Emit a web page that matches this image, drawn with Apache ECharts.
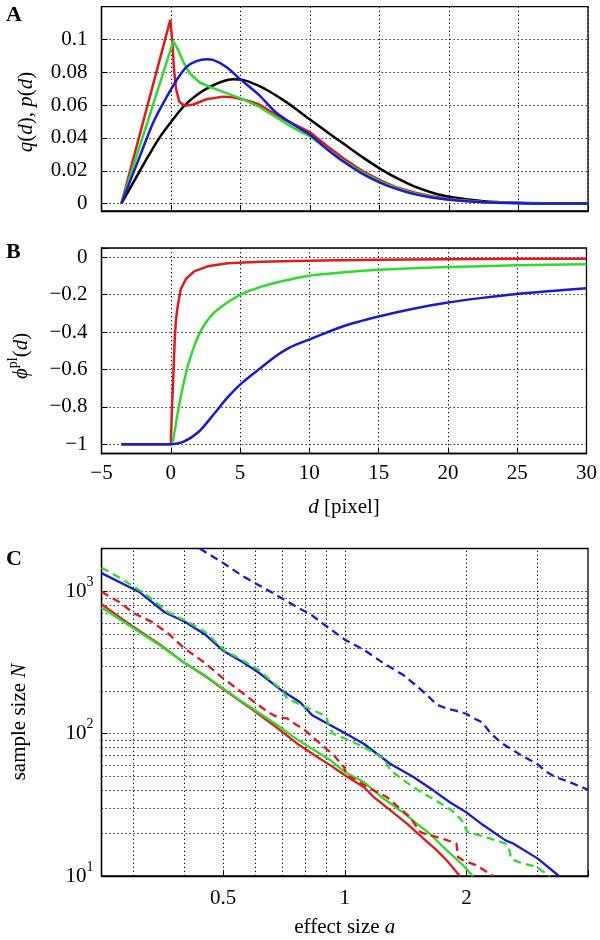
<!DOCTYPE html>
<html>
<head>
<meta charset="utf-8">
<script src="https://cdn.jsdelivr.net/npm/echarts@6/dist/echarts.min.js"></script>
<style>
html, body { margin: 0; padding: 0; background: #fff; }
#chart { width: 600px; height: 940px; }
</style>
</head>
<body>
<div id="chart"></div>
<script>
// panel A: q(d), p(d)
var aBlackX = [-3.57, -2.69, -1.74, -0.79, 0, 0.88, 1.83, 2.79, 3.74, 4.45, 5.17, 6.36, 7.0, 8.0, 8.94, 10, 11.25, 12.5, 13.75, 15, 16.25, 17.5, 18.75, 20, 22.5, 25, 27.5, 30];
var aBlackY = [0, 0.0132, 0.0274, 0.0407, 0.0498, 0.059, 0.066, 0.0711, 0.0746, 0.0758, 0.0754, 0.0716, 0.0688, 0.0635, 0.058, 0.0512, 0.0435, 0.036, 0.0285, 0.0215, 0.0155, 0.0105, 0.0068, 0.0042, 0.0015, 0.0005, 0.0001, 0];
var aRedX = [-3.57, -0.05, 0.12, 0.21, 0.36, 0.6, 1.0, 1.6, 2.55, 3.74, 4.45, 5.4, 6.36, 7.0, 8.0, 8.94, 10, 11.25, 12.5, 13.75, 15, 16.25, 17.5, 18.75, 20, 22.5, 25, 27.5, 30];
var aRedY = [0, 0.112, 0.0965, 0.0823, 0.0701, 0.062, 0.0596, 0.0604, 0.0636, 0.0652, 0.0648, 0.063, 0.0604, 0.057, 0.052, 0.048, 0.0435, 0.035, 0.027, 0.02, 0.0145, 0.0098, 0.0068, 0.0045, 0.0028, 0.001, 0.0003, 0.0001, 0];
var aGreenX = [-3.57, 0.17, 0.52, 0.88, 1.36, 2.07, 2.79, 3.74, 4.93, 6.36, 7.5, 8.94, 10, 11.25, 12.5, 13.75, 15, 16.25, 17.5, 18.75, 20, 22.5, 25, 27.5, 30];
var aGreenY = [0, 0.099, 0.0935, 0.0864, 0.0793, 0.0738, 0.0711, 0.0681, 0.0644, 0.0589, 0.053, 0.0455, 0.041, 0.033, 0.0255, 0.019, 0.0135, 0.0092, 0.0062, 0.004, 0.0025, 0.0009, 0.0003, 0.0001, 0];
var aBlueX = [-3.57, -2.21, -1.26, -0.31, 0.4, 1.12, 1.83, 2.55, 3.02, 3.98, 4.93, 6.36, 7.49, 8.94, 10, 11.25, 12.5, 13.75, 15, 16.25, 17.5, 18.75, 20, 22.5, 25, 27.5, 30];
var aBlueY = [0, 0.0295, 0.0498, 0.065, 0.0752, 0.0833, 0.0868, 0.088, 0.0876, 0.0833, 0.0762, 0.066, 0.056, 0.0475, 0.042, 0.033, 0.025, 0.0183, 0.013, 0.0088, 0.0058, 0.0037, 0.0023, 0.0008, 0.0002, 0.00005, 0];

// panel B: phi^pl(d)
var bRedX = [-3.57, 0, 0.07, 0.17, 0.29, 0.38, 0.48, 0.72, 1.09, 1.69, 2.66, 4.1, 6.5, 8.94, 12, 15, 20, 25, 30];
var bRedY = [-1, -1, -0.84, -0.66, -0.43, -0.33, -0.27, -0.17, -0.116, -0.075, -0.048, -0.032, -0.024, -0.02, -0.016, -0.013, -0.01, -0.008, -0.007];
var bGreenX = [-3.57, 0, 0.24, 0.48, 0.85, 1.33, 2.17, 3.14, 4.1, 5.07, 6.5, 8.0, 10, 12.5, 15, 20, 25, 30];
var bGreenY = [-1, -1, -0.946, -0.84, -0.7, -0.554, -0.393, -0.295, -0.241, -0.198, -0.158, -0.128, -0.098, -0.08, -0.067, -0.052, -0.043, -0.037];
var bBlueX = [-3.57, 0, 0.9, 2.0, 3.1, 4.1, 5.1, 6.4, 7.5, 8.6, 10, 12.4, 15, 17.5, 20, 22.5, 25, 27.5, 30];
var bBlueY = [-1, -1, -0.988, -0.935, -0.84, -0.75, -0.675, -0.597, -0.533, -0.482, -0.44, -0.37, -0.317, -0.275, -0.242, -0.217, -0.196, -0.18, -0.166];

// panel C: sample size N vs effect size a
var cRedX = [0.25, 0.3, 0.35, 0.4, 0.45, 0.5, 0.55, 0.6, 0.68, 0.763, 0.855, 0.922, 1.0, 1.114, 1.178, 1.295, 1.423, 1.564, 1.688, 1.787, 1.927];
var cRedY = [813, 561, 420, 316, 255, 206, 170, 143, 110, 85, 68.6, 59.9, 51, 42.2, 36, 29, 23.4, 18.4, 15.2, 12.9, 10];
var cGreenX = [0.25, 0.3, 0.35, 0.4, 0.45, 0.5, 0.55, 0.6, 0.68, 0.763, 0.855, 0.922, 1.0, 1.114, 1.247, 1.37, 1.506, 1.623, 1.787, 1.962, 2.075];
var cGreenY = [770, 550, 415, 316, 257, 208, 172, 146, 115, 90.8, 74.3, 65, 53.8, 45.8, 35, 29, 23.4, 19.8, 15.2, 11.9, 10];
var cRedDashX = [0.25, 0.275, 0.3, 0.333, 0.366, 0.4, 0.45, 0.5, 0.55, 0.6, 0.65, 0.68, 0.72, 0.75, 0.8, 0.85, 0.89, 0.94, 0.995, 1.013, 1.052, 1.157, 1.27, 1.37, 1.45, 1.536, 1.595, 1.688, 1.854, 1.89, 1.907, 1.962, 2.115, 2.284, 2.33];
var cRedDashY = [995, 850, 705, 610, 505, 400, 315, 245, 200, 165, 140, 131, 128, 118, 105, 90, 80.6, 70.4, 58.3, 51, 48.3, 41.1, 35.9, 29.8, 26, 20.4, 19.6, 18.8, 17.3, 16.9, 13.6, 12.9, 11.9, 10.4, 10];
var cBlueX = [0.25, 0.311, 0.359, 0.402, 0.451, 0.5, 0.556, 0.611, 0.7, 0.774, 0.831, 0.905, 1.0, 1.114, 1.295, 1.479, 1.656, 1.82, 2.0, 2.2, 2.5, 2.61, 3.0, 3.39];
var cBlueY = [1343, 984, 710, 612, 498, 383, 321, 270, 200, 167, 134.6, 118, 101, 85, 61.5, 49.6, 40, 33, 28, 22.8, 17.8, 16.9, 13.3, 10];
var cGreenDashX = [0.25, 0.275, 0.303, 0.333, 0.366, 0.402, 0.451, 0.505, 0.556, 0.611, 0.7, 0.72, 0.8, 0.873, 0.9, 0.915, 0.935, 1.0, 1.072, 1.178, 1.25, 1.3, 1.4, 1.52, 1.68, 1.84, 1.95, 2.01, 2.23, 2.5, 2.55, 2.58, 2.7, 2.97, 3.22];
var cGreenDashY = [1466, 1259, 1067, 883, 710, 626, 520, 383, 330, 281, 202, 177, 154, 138, 131, 112, 100, 92.5, 85, 74, 66, 55, 47, 40, 34, 28.9, 24.6, 20.4, 18.8, 16.9, 15.6, 13.2, 12.5, 11.6, 10];
var cBlueDashX = [0.4375, 0.496, 0.556, 0.605, 0.659, 0.711, 0.77, 0.823, 0.888, 1.0, 1.114, 1.247, 1.397, 1.52, 1.61, 1.69, 1.79, 1.88, 2.0, 2.07, 2.19, 2.3, 2.46, 2.7, 3.0, 3.15, 3.33, 3.6, 4.0];
var cBlueDashY = [2000, 1607, 1292, 1127, 984, 867, 760, 690, 586, 458, 389, 313, 258, 212, 183, 160, 150, 145, 138, 130, 120, 100, 85, 72, 61, 54, 49.5, 45.7, 40.4];

// grid lines of the log-log panel
var cGridX = [0.3, 0.4, 0.5, 0.6, 0.7, 0.8, 0.9, 1, 2, 3];
var cGridY = [20, 30, 40, 50, 60, 70, 80, 90, 100, 200, 300, 400, 500, 600, 700, 800, 900, 1000];

var RED = '#e3191c', GREEN = '#2edc2e', BLUE = '#1a1ad4', BLACK = '#000';
var FONT = '"Liberation Serif", "Times New Roman", serif';

function zip(xs, ys) {
	return xs.map(function (x, i) { return [x, ys[i]]; });
}
function minus(v) {
	return v < 0 ? '\u2212' + (-v) : String(v);
}

var dotted = { color: '#111', width: 1, type: [1.3, 2.7] };
var tick = { show: true, inside: true, length: 6, lineStyle: { color: '#000', width: 1 } };
var axisLine = { show: true, onZero: false, lineStyle: { color: '#000', width: 1.3 } };
var italic = { fontStyle: 'italic', fontSize: 21, fontFamily: FONT, color: '#000' };

function line(name, data, color, xi, opts) {
	var s = {
		name: name, type: 'line', data: data, xAxisIndex: xi, yAxisIndex: xi,
		symbol: 'none', animation: false, z: 3,
		lineStyle: { color: color, width: 2.5 }
	};
	for (var k in opts) s[k] = opts[k];
	return s;
}

var myChart = echarts.init(document.getElementById('chart'));
var option = {
	backgroundColor: '#fff',
	animation: false,
	grid: [
		{ left: 101.5, width: 486.5, top: 6.7, height: 204.3, show: true, borderColor: '#000', borderWidth: 1.3 },
		{ left: 101.5, width: 486.5, top: 248, height: 205.5, show: true, borderColor: '#000', borderWidth: 1.3 },
		{ left: 101.5, width: 486.5, top: 548.5, height: 327.5, show: true, borderColor: '#000', borderWidth: 1.3 }
	],
	xAxis: [
		{ gridIndex: 0, type: 'value', min: -5, max: 30, interval: 5, axisLine: axisLine, axisTick: tick,
		  axisLabel: { show: false }, splitLine: { show: true, lineStyle: dotted } },
		{ gridIndex: 1, type: 'value', min: -5, max: 30, interval: 5, axisLine: axisLine, axisTick: tick,
		  axisLabel: { margin: 9.5, formatter: function (v) { return minus(v); }, color: '#000', fontSize: 21, fontFamily: FONT },
		  splitLine: { show: true, lineStyle: dotted },
		  name: '{i|d} [pixel]', nameLocation: 'middle', nameGap: 43,
		  nameTextStyle: { color: '#000', fontSize: 21, fontFamily: FONT, rich: { i: italic } } },
		{ gridIndex: 2, type: 'log', logBase: 2, min: 0.25, max: 4, axisLine: axisLine, axisTick: tick,
		  axisLabel: { margin: 11.5, color: '#000', fontSize: 21, fontFamily: FONT,
		    formatter: function (v) {
		      if (Math.abs(v - 0.5) < 1e-6) return '0.5';
		      if (Math.abs(v - 1) < 1e-6) return '1';
		      if (Math.abs(v - 2) < 1e-6) return '2';
		      return '';
		    } },
		  splitLine: { show: false },
		  name: 'effect size {i|a}', nameLocation: 'middle', nameGap: 40.5,
		  nameTextStyle: { color: '#000', fontSize: 21, fontFamily: FONT, rich: { i: italic } } }
	],
	yAxis: [
		{ gridIndex: 0, type: 'value', min: -0.0045, max: 0.12, minInterval: 0.02, maxInterval: 0.02, splitNumber: 6,
		  axisLine: axisLine, axisTick: tick, splitLine: { show: true, lineStyle: dotted },
		  axisLabel: { margin: 14, color: '#000', fontSize: 21, fontFamily: FONT,
		    formatter: function (v) {
		      var r = Math.round(v / 0.02);
		      if (Math.abs(v - r * 0.02) > 1e-6 || r > 5) return '';
		      return String(+(r * 0.02).toFixed(2));
		    } } },
		{ gridIndex: 1, type: 'value', min: -1.05, max: 0.05, minInterval: 0.2, maxInterval: 0.2, splitNumber: 5,
		  axisLine: axisLine, axisTick: tick, splitLine: { show: true, lineStyle: dotted },
		  axisLabel: { margin: 14, color: '#000', fontSize: 21, fontFamily: FONT,
		    formatter: function (v) {
		      var r = Math.round(v / 0.2);
		      if (Math.abs(v - r * 0.2) > 1e-6) return '';
		      return minus(+(r * 0.2).toFixed(1));
		    } } },
		{ gridIndex: 2, type: 'log', logBase: 10, min: 10, max: 2000,
		  axisLine: axisLine, axisTick: tick, splitLine: { show: false },
		  axisLabel: { margin: 8, color: '#000', fontSize: 21, fontFamily: FONT,
		    formatter: function (v) {
		      var e = Math.round(Math.log(v) / Math.LN10);
		      if (Math.abs(v - Math.pow(10, e)) > 1e-6 * v) return '';
		      return '{b|10}{s|' + e + '}';
		    },
		    rich: {
		      b: { fontSize: 21, fontFamily: FONT, color: '#000', lineHeight: 32 },
		      s: { fontSize: 14, fontFamily: FONT, color: '#000', verticalAlign: 'top', lineHeight: 14 }
		    } } }
	],
	graphic: [
		{ type: 'text', left: 6, top: 4.5, style: { text: 'A', fontSize: 22, fontWeight: 'bold', fontFamily: FONT, fill: '#000' } },
		{ type: 'text', left: 6, top: 241.5, style: { text: 'B', fontSize: 22, fontWeight: 'bold', fontFamily: FONT, fill: '#000' } },
		{ type: 'text', left: 6, top: 548, style: { text: 'C', fontSize: 22, fontWeight: 'bold', fontFamily: FONT, fill: '#000' } },
		{ type: 'text', x: 26, y: 112, rotation: Math.PI / 2,
		  style: { text: '{i|q}({i|d}), {i|p}({i|d})', align: 'center', verticalAlign: 'middle',
		    fontSize: 21, fontFamily: FONT, fill: '#000', rich: { i: italic } } },
		{ type: 'text', x: 21, y: 356, rotation: Math.PI / 2,
		  style: { text: '{i|\u03d5}{s|pl}({i|d})', align: 'center', verticalAlign: 'middle',
		    fontSize: 21, fontFamily: FONT, fill: '#000',
		    rich: {
		      i: { fontStyle: 'italic', fontSize: 21, fontFamily: FONT, color: '#000', lineHeight: 30 },
		      s: { fontSize: 14, fontFamily: FONT, color: '#000', verticalAlign: 'top', lineHeight: 14 }
		    } } },
		{ type: 'text', x: 19, y: 722, rotation: Math.PI / 2,
		  style: { text: 'sample size {i|N}', align: 'center', verticalAlign: 'middle',
		    fontSize: 21, fontFamily: FONT, fill: '#000', rich: { i: italic } } }
	],
	series: [
		line('q', zip(aBlackX, aBlackY), BLACK, 0, { smooth: 0.3 }),
		line('p1', zip(aRedX, aRedY), RED, 0, {}),
		line('p2', zip(aGreenX, aGreenY), GREEN, 0, {}),
		line('p3', zip(aBlueX, aBlueY), BLUE, 0, { smooth: 0.3 }),

		line('phi1', zip(bRedX, bRedY), RED, 1, {}),
		line('phi2', zip(bGreenX, bGreenY), GREEN, 1, { smooth: 0.25 }),
		line('phi3', zip(bBlueX, bBlueY), BLUE, 1, { smooth: 0.3 }),

		{ type: 'line', xAxisIndex: 2, yAxisIndex: 2, data: [], silent: true, z: 1,
		  markLine: { silent: true, symbol: 'none', animation: false, z: 1,
		    label: { show: false }, lineStyle: dotted,
		    data: cGridX.map(function (v) { return { xAxis: v }; })
		      .concat(cGridY.map(function (v) { return { yAxis: v }; })) } },

		line('N red', zip(cRedX, cRedY), RED, 2, { lineStyle: { color: RED, width: 2.3 } }),
		line('N green', zip(cGreenX, cGreenY), GREEN, 2, { lineStyle: { color: GREEN, width: 2.3 } }),
		line('N red dashed', zip(cRedDashX, cRedDashY), RED, 2, { lineStyle: { color: RED, width: 2.3, type: [8, 5] } }),
		line('N blue', zip(cBlueX, cBlueY), BLUE, 2, { lineStyle: { color: BLUE, width: 2.3 } }),
		line('N green dashed', zip(cGreenDashX, cGreenDashY), GREEN, 2, { lineStyle: { color: GREEN, width: 2.3, type: [8, 5] } }),
		line('N blue dashed', zip(cBlueDashX, cBlueDashY), BLUE, 2, { lineStyle: { color: BLUE, width: 2.3, type: [8, 5] } })
	]
};
myChart.setOption(option, true);
</script>
</body>
</html>
